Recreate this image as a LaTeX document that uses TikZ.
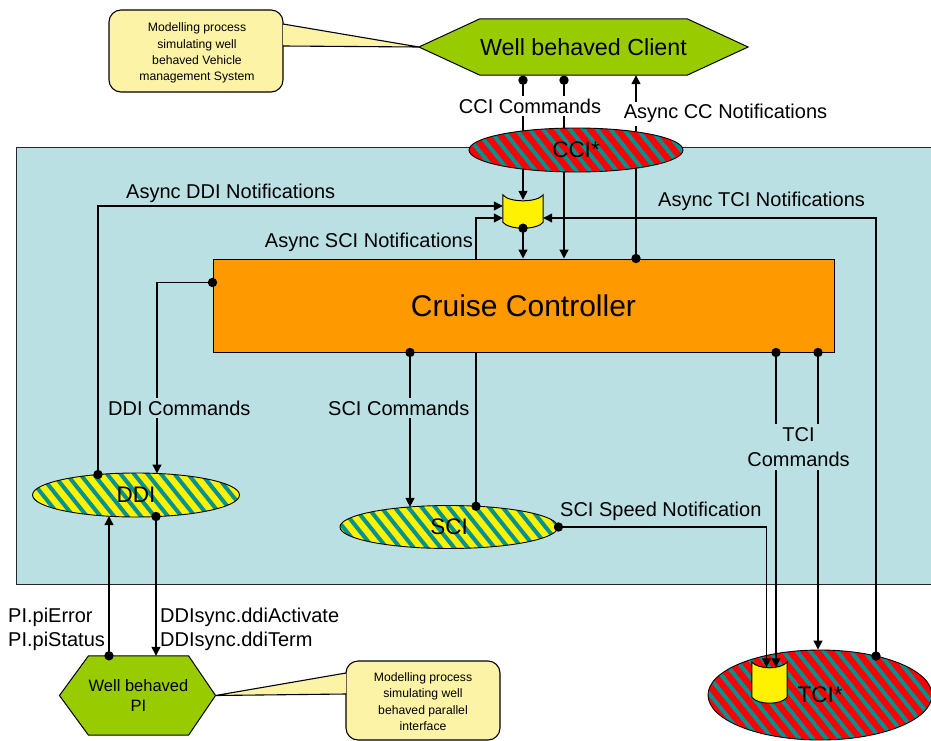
\documentclass[tikz,border=0pt]{standalone}
\usepackage{fontspec}
\setmainfont{Liberation Sans}
\usetikzlibrary{arrows.meta,shapes.geometric,calc}

\definecolor{panelblue}{RGB}{187,224,228}
\definecolor{clientgreen}{RGB}{153,204,0}
\definecolor{ccorange}{RGB}{255,153,0}
\definecolor{notepaper}{RGB}{252,243,166}
\definecolor{stripeteal}{RGB}{0,145,145}

\pgfdeclarelayer{panel}
\pgfdeclarelayer{wires}
\pgfdeclarelayer{hexes}
\pgfsetlayers{panel,wires,hexes,main}

\tikzset{
  wire/.style={line width=1.3pt, draw=black},
  arr/.style={wire, -{Triangle[length=9pt,width=9pt]}},
  striped/.style 2 args={fill=#1, path picture={
      \begin{scope}[shift={(path picture bounding box.center)}]
        \foreach \k in {-18,...,18}
          \draw[stripeteal, line width=4pt] (\k*#2-112,-140) -- (\k*#2+112,140);
      \end{scope}}},
  iface/.style={ellipse, draw, line width=0.9pt, inner sep=0pt,
      font=\fontsize{22.5}{26}\selectfont},
  lbl/.style={font=\fontsize{20}{23.3}\selectfont, inner sep=0pt},
  coverlbl/.style={lbl, inner sep=3pt},
  notebox/.style={draw=black, fill=notepaper, line width=1.1pt},
  notetext/.style={font=\fontsize{12.2}{16.3}\selectfont, align=center, inner sep=0pt},
  hexa/.style={draw=black, fill=clientgreen, line width=1pt},
  storebody/.style={draw=black, fill=yellow, line width=1pt},
}

% yellow data store drawn on the frame of an empty node
\newcommand\drawstore[1]{%
  \draw[storebody] (#1.north west) -- (#1.south west)
    .. controls ($(#1.south west)+(6,8)$) and ($(#1.south east)+(-6,8)$) .. (#1.south east)
    -- (#1.north east)
    .. controls ($(#1.north east)+(-6,8)$) and ($(#1.north west)+(6,8)$) .. (#1.north west) -- cycle;}

% callout: rounded box #1--#2, pointer leaving the side at x=#3 between y=#4 and y=#5, tip at #6
\newcommand\drawnote[6]{%
  \draw[notebox, rounded corners=12pt] #1 rectangle #2;
  \fill[notepaper] (#3,#4+0.6) -- #6 -- (#3,#5-0.6) -- cycle;
  \draw[notebox, fill=none] (#3,#4) -- #6 -- (#3,#5);}

\begin{document}
\begin{tikzpicture}[x=1pt,y=-1pt]
\useasboundingbox (0,0) rectangle (931,741);

% ---- system boundary panel
\begin{pgfonlayer}{panel}
  \fill[panelblue] (16,147) rectangle (931,584);
  \draw[line width=1pt, black!85] (931,147) -- (16,147) -- (16,584) -- (931,584);
\end{pgfonlayer}

% ---- main blocks
\node[draw, fill=ccorange, line width=1pt, minimum width=621pt, minimum height=93pt,
      inner sep=0pt, font=\fontsize{30}{34}\selectfont] (cc) at (523.5,305.5) {Cruise Controller};

\node[minimum width=184pt, minimum height=56pt, inner sep=0pt,
      font=\fontsize{23.3}{27}\selectfont] (client) at (583.5,47) {Well behaved Client};
\node[minimum width=83pt, minimum height=79pt, inner sep=0pt, align=center,
      font=\fontsize{16.5}{20}\selectfont] (pi) at (138.5,695.5) {Well behaved\\PI};

\node[iface, striped={red}{13.5}, minimum width=214pt, minimum height=44pt] (cci) at (576,150) {CCI*};
\node[iface, striped={yellow}{13.5}, minimum width=207pt, minimum height=44pt] (ddi) at (136,495) {DDI};
\node[iface, striped={yellow}{13.5}, minimum width=218pt, minimum height=43pt] (sci) at (449,527) {SCI};
\node[iface, striped={red}{13.5}, minimum width=224pt, minimum height=90pt] (tci) at (820,695) {TCI*};

% ---- data stores
\node[minimum width=40pt, minimum height=27pt, inner sep=0pt] (ccstore) at (523,208.5) {};
\drawstore{ccstore}
\node[minimum width=35pt, minimum height=35pt, inner sep=0pt] (tcistore) at (769.5,679.5) {};
\drawstore{tcistore}

% ---- hexagons and callouts
\begin{pgfonlayer}{hexes}
  \drawnote{(109,10)}{(283,92)}{283}{24}{46}{($(client.west)+(-61,0)$)}
  \drawnote{(346,661)}{(500,740)}{346}{673}{694}{($(pi.east)+(27,0)$)}
  \draw[hexa] (client.north west) -- (client.north east) -- ($(client.east)+(61,0)$)
      -- (client.south east) -- (client.south west) -- ($(client.west)+(-61,0)$) -- cycle;
  \draw[hexa] (pi.north west) -- (pi.north east) -- ($(pi.east)+(27,0)$)
      -- (pi.south east) -- (pi.south west) -- ($(pi.west)+(-29,0)$) -- cycle;
\end{pgfonlayer}

% ---- connector end points
\coordinate (cmdA) at ($(client.south)+(-60.5,5)$);
\coordinate (cmdB) at ($(client.south)+(-19.5,5)$);
\coordinate (ccnote) at (636,0 |- cc.north);
\coordinate (storein) at ($(ccstore.north)+(0,5)$);
\coordinate (storeout) at ($(ccstore.south)+(0,6)$);
\coordinate (ddinote) at (98,474.5);
\coordinate (scinote) at (476,506.2);
\coordinate (tcinote) at (876,656);
\coordinate (ddicmd) at ($(cc.north west)+(0,24)$);
\coordinate (ddiin) at (157,473.5);
\coordinate (ddiact) at (156,516.5);
\coordinate (piin) at (156,0 |- pi.north);
\coordinate (pierr) at (109,0 |- pi.north);
\coordinate (ddist) at (109,516.2);
\coordinate (scicmd) at (410,0 |- cc.south);
\coordinate (sciin) at (410,506.9);
\coordinate (scispeed) at (sci.east);
\coordinate (tcsinA) at ($(tcistore.north)+(-3,5.5)$);
\coordinate (tcsinB) at ($(tcistore.north)+(6.5,5.5)$);
\coordinate (tcicmdA) at (776,0 |- cc.south);
\coordinate (tcicmdB) at (818,0 |- cc.south);
\coordinate (tciin) at (818,0 |- tci.north);

% ---- connectors behind the blocks
\begin{pgfonlayer}{wires}
  \draw[arr] (cmdA) -- (storein);
  \draw[arr] (cmdB) -- (cmdB |- cc.north);
  \draw[arr] (ccnote) -- (ccnote |- client.south);
  \draw[arr] (storeout) -- (storeout |- cc.north);
  \draw[arr] (ddinote) |- ([yshift=2.5pt]ccstore.west);
  \draw[arr] (scinote) |- ([yshift=-9.5pt]ccstore.west);
  \draw[arr] (tcinote) |- ([yshift=-9.5pt]ccstore.east);
  \draw[arr] (ddicmd) -| (ddiin);
  \draw[arr] (ddiact) -- (piin);
  \draw[arr] (pierr) -- (ddist);
  \draw[arr] (scicmd) -- (sciin);
  \draw[arr] (tcicmdB) -- (tciin);
\end{pgfonlayer}

% connectors that run over the TCI* ellipse into its store
\draw[arr] (scispeed) -| (tcsinA);
\draw[arr] (tcicmdA) -- (tcsinB);

% ---- connector labels
\node[coverlbl, fill=white, anchor=base] (lcci) at (530,113.3) {CCI Commands};
\node[coverlbl, fill=white, anchor=base] (lccn) at (725.5,119) {Async CC Notifications};
\node[lbl, anchor=base west] (lddin) at (126,198) {Async DDI Notifications};
\node[lbl, anchor=base east] (lscin) at (473,247) {Async SCI Notifications};
\node[lbl, anchor=base west] (ltcin) at (658,206.5) {Async TCI Notifications};
\node[coverlbl, fill=panelblue, anchor=base west] (lddic) at (105,415) {DDI Commands};
\node[coverlbl, fill=panelblue, anchor=base west] (lscic) at (325,415) {SCI Commands};
\node[coverlbl, fill=panelblue, align=center, font=\fontsize{20}{25}\selectfont] (ltcic) at (798.5,447) {TCI\\Commands};
\node[lbl, anchor=base west] (lspeed) at (560,516.7) {SCI Speed Notification};
\node[lbl, anchor=west, align=left] (lpi) at (8,629.3) {PI.piError\\PI.piStatus};
\node[lbl, anchor=west, align=left] (lddis) at (160,629.3) {DDIsync.ddiActivate\\DDIsync.ddiTerm};

% ---- callout texts
\node[notetext] (note1) at (197,53) {Modelling process\\simulating well\\behaved Vehicle\\management System};
\node[notetext] (note2) at (423,701.5) {Modelling process\\simulating well\\behaved parallel\\interface};

% ---- connector origin dots
\foreach \p in {cmdA,cmdB,ccnote,storeout,ddinote,scinote,tcinote,ddicmd,ddiact,pierr,scicmd,scispeed,tcicmdA,tcicmdB}
  \fill (\p) circle (4.7pt);
\end{tikzpicture}
\end{document}
